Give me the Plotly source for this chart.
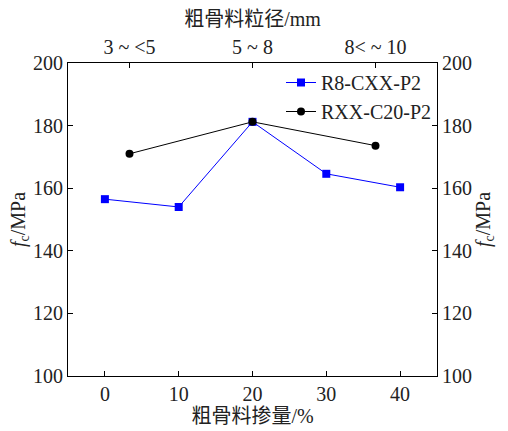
import plotly.graph_objects as go

# Data
content_pct = [0, 10, 20, 30, 40]
fc_r8 = [156.5, 154.0, 181.2, 164.6, 160.3]
size_pos = [1, 2, 3]
size_labels = ["3 ~ <5", "5 ~ 8", "8< ~ 10"]
fc_rxx = [171.0, 181.2, 173.6]
y_ticks = [100, 120, 140, 160, 180, 200]

FONT = "'Liberation Serif', 'Times New Roman', 'Noto Sans CJK SC', serif"

fig = go.Figure()
fig.add_trace(go.Scatter(
    x=content_pct, y=fc_r8, mode="lines+markers", name="R8-CXX-P2",
    line=dict(color="#0000ff", width=1),
    marker=dict(symbol="square", size=8, color="#0000ff"),
    xaxis="x", yaxis="y"))
fig.add_trace(go.Scatter(
    x=size_pos, y=fc_rxx, mode="lines+markers", name="RXX-C20-P2",
    line=dict(color="#000000", width=1),
    marker=dict(symbol="circle", size=8, color="#000000"),
    xaxis="x2", yaxis="y2"))

ytitle = "<i>f</i><sub>c</sub>/MPa"
axis_common = dict(showline=True, linecolor="black", linewidth=1, ticks="inside",
                   ticklen=5, tickcolor="black", showgrid=False, zeroline=False,
                   automargin=False,
                   tickfont=dict(family=FONT, size=20, color="#222"))
TFONT = dict(family=FONT, size=20, color="#222")

fig.update_layout(
    width=508, height=431,
    margin=dict(l=68, r=71, t=63, b=55),
    paper_bgcolor="white", plot_bgcolor="white",
    font=dict(family=FONT, size=20, color="#222"),
    showlegend=True,
    legend=dict(x=1.0, xanchor="right", y=1.0, yanchor="top",
                bgcolor="rgba(0,0,0,0)", font=dict(family=FONT, size=20, color="#222"),
                tracegroupgap=0, itemwidth=30),
    xaxis=dict(range=[-5, 45], tickvals=content_pct,
               title=dict(text="粗骨料掺量/%", font=TFONT, standoff=2),
               **axis_common),
    xaxis2=dict(range=[0.5, 3.5], overlaying="x", side="top", anchor="y",
                tickvals=size_pos, ticktext=size_labels,
                title=dict(text="粗骨料粒径/mm", font=TFONT, standoff=4),
                **axis_common),
    yaxis=dict(range=[100, 200], tickvals=y_ticks,
               title=dict(text=ytitle, font=TFONT, standoff=2),
               **axis_common),
    yaxis2=dict(range=[100, 200], tickvals=y_ticks, overlaying="y", side="right", anchor="x",
                title=dict(text=ytitle, font=TFONT, standoff=2),
                **axis_common),
)

fig.write_html("out.html")
